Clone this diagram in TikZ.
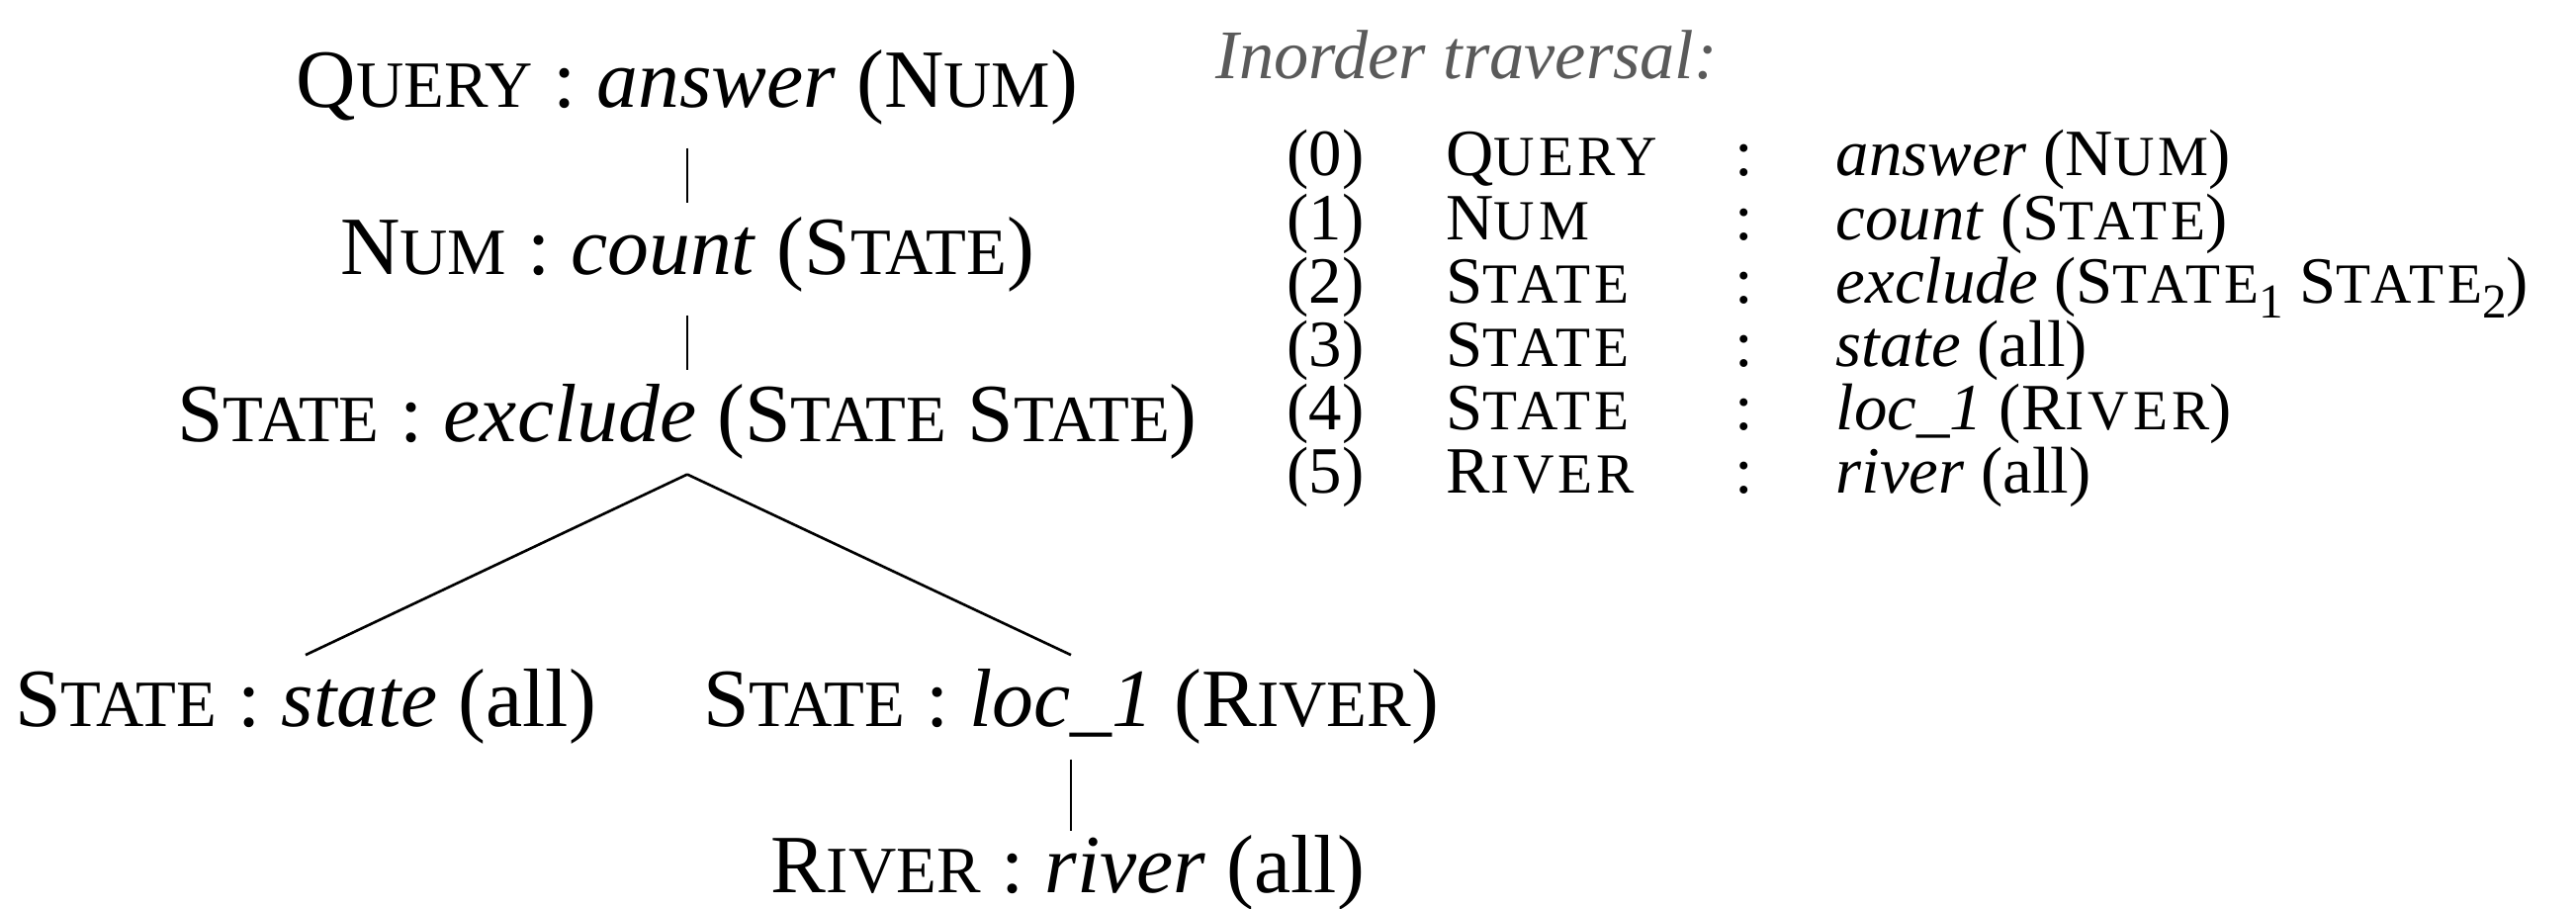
\documentclass[tikz,border=0pt]{standalone}
\usepackage{fontspec}
\setmainfont{Liberation Serif}
\newfontfamily\tabspfam[LetterSpace=7]{Liberation Serif}
\definecolor{titlegray}{HTML}{5A5A5A}
% sizes for the tree text, the listing text, and their reduced caps
\newcommand\bigsz{\fontsize{23.8pt}{28pt}\selectfont}
\newcommand\capsz{\fontsize{19pt}{22pt}\selectfont}
\newcommand\tabcapsz{\fontsize{16.3pt}{19pt}\selectfont}
\newcommand\sm[2]{#1{\capsz #2}}
% listing caps are set a little looser
\newcommand\tsm[2]{{\tabspfam #1{\tabcapsz #2}}}
\newcommand\tabsz{\fontsize{19pt}{22pt}\selectfont\let\sm\tsm}
\newcommand\sub[1]{\raisebox{-0.22em}{\fontsize{14pt}{14pt}\selectfont #1}}
\begin{document}
\begin{tikzpicture}[x=0.01cm,y=-0.01cm,
  every node/.style={font=\bigsz, inner sep=4pt},
  lbl/.style={anchor=base},
  cellw/.style={anchor=base west, inner sep=0pt, font=\tabsz},
  cellc/.style={anchor=base, inner sep=0pt, font=\tabsz},
  edge/.style={line width=0.75pt}]
\useasboundingbox (0,0) rectangle (2605,919);

% derivation tree
\node[lbl] (q)  at (695,109) {\sm{Q}{UERY} : \textit{answer} (\sm{N}{UM})};
\node[lbl] (n)  at (695,278) {\sm{N}{UM} : \textit{count} (\sm{S}{TATE})};
\node[lbl] (e)  at (695,447) {\sm{S}{TATE} : \textit{exclude} (\sm{S}{TATE} \sm{S}{TATE})};
\node[lbl] (s1) at (309,735) {\sm{S}{TATE} : \textit{state} (all)};
\node[lbl] (s2) at (1083,735) {\sm{S}{TATE} : \textit{loc\_1} (\sm{R}{IVER})};
\node[lbl] (r)  at (1080,903) {\sm{R}{IVER} : \textit{river} (all)};

\draw[edge, shorten <=2.3pt] (q.south) -- (n.north);
\draw[edge, shorten <=2.3pt] (n.south) -- (e.north);
\draw[edge] (e.south) -- (s1.north);
\draw[edge] (e.south) -- (s2.north);
\draw[edge, shorten >=-2.8pt] (s2.south) -- (s2.south |- r.north);

% traversal listing
\node[anchor=base west, inner sep=0pt, text=titlegray, font=\fontsize{20pt}{24pt}\selectfont\itshape] (title) at (1229,80) {Inorder traversal:};

\node[cellw] (i0) at (1301,178) {(0)};
\node[cellw] (c0) at (1462,178) {\sm{Q}{UERY}};
\node[cellc] (k0) at (1764,178) {:};
\node[cellw] (r0) at (1856,178) {\textit{answer} (\sm{N}{UM})};

\node[cellw] (i1) at (1301,242.2) {(1)};
\node[cellw] (c1) at (1462,242.2) {\sm{N}{UM}};
\node[cellc] (k1) at (1764,242.2) {:};
\node[cellw] (r1) at (1856,242.2) {\textit{count} (\sm{S}{TATE})};

\node[cellw] (i2) at (1301,306.4) {(2)};
\node[cellw] (c2) at (1462,306.4) {\sm{S}{TATE}};
\node[cellc] (k2) at (1764,306.4) {:};
\node[cellw] (r2) at (1856,306.4) {\textit{exclude} (\sm{S}{TATE}\sub{1} \sm{S}{TATE}\sub{2})};

\node[cellw] (i3) at (1301,370.6) {(3)};
\node[cellw] (c3) at (1462,370.6) {\sm{S}{TATE}};
\node[cellc] (k3) at (1764,370.6) {:};
\node[cellw] (r3) at (1856,370.6) {\textit{state} (all)};

\node[cellw] (i4) at (1301,434.8) {(4)};
\node[cellw] (c4) at (1462,434.8) {\sm{S}{TATE}};
\node[cellc] (k4) at (1764,434.8) {:};
\node[cellw] (r4) at (1856,434.8) {\textit{loc\_1} (\sm{R}{IVER})};

\node[cellw] (i5) at (1301,499) {(5)};
\node[cellw] (c5) at (1462,499) {\sm{R}{IVER}};
\node[cellc] (k5) at (1764,499) {:};
\node[cellw] (r5) at (1856,499) {\textit{river} (all)};
\end{tikzpicture}
\end{document}
